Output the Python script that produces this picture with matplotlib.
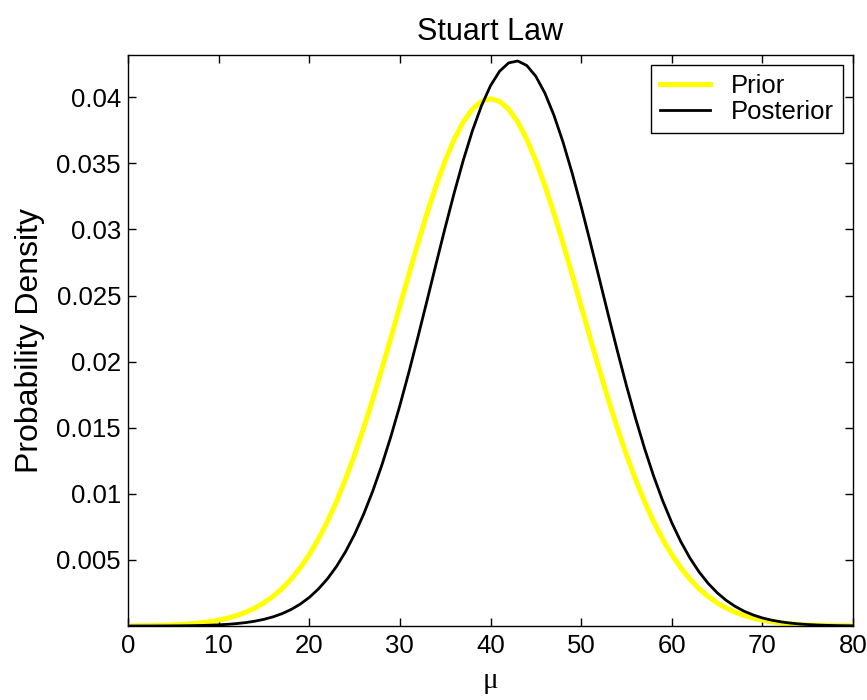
import numpy as np
import matplotlib
matplotlib.use("Agg")
import matplotlib.pyplot as plt

plt.rcParams['font.family'] = ['Liberation Sans', 'DejaVu Sans']

# valores: densidade em mu = 0, 1, ..., 80
mu = list(range(0, 81))
dens_prior = [0.0000134, 0.0000199, 0.0000292, 0.0000425, 0.0000612, 0.0000873, 0.000123,
              0.000172, 0.000238, 0.000327, 0.000443, 0.000595, 0.000792, 0.001042,
              0.001358, 0.001753, 0.002239, 0.002833, 0.003547, 0.004398, 0.005399,
              0.006562, 0.007895, 0.009405, 0.011092, 0.012952, 0.014973, 0.017137,
              0.019419, 0.021785, 0.024197, 0.026608, 0.028969, 0.031225, 0.033322,
              0.035207, 0.036827, 0.038139, 0.039104, 0.039695, 0.039894,
              0.039695, 0.039104, 0.038139, 0.036827, 0.035207, 0.033322, 0.031225,
              0.028969, 0.026608, 0.024197, 0.021785, 0.019419, 0.017137, 0.014973,
              0.012952, 0.011092, 0.009405, 0.007895, 0.006562, 0.005399, 0.004398,
              0.003547, 0.002833, 0.002239, 0.001753, 0.001358, 0.001042, 0.000792,
              0.000595, 0.000443, 0.000327, 0.000238, 0.000172, 0.000123, 0.0000873,
              0.0000612, 0.0000425, 0.0000292, 0.0000199, 0.0000134]
dens_post = [0.0000012, 0.0000019, 0.000003, 0.0000048, 0.0000075, 0.0000117, 0.0000179,
             0.0000272, 0.0000407, 0.0000605, 0.0000886, 0.000128, 0.000184, 0.00026,
             0.000365, 0.000505, 0.000691, 0.000934, 0.001249, 0.001653, 0.002159,
             0.00279, 0.003564, 0.004499, 0.005616, 0.006929, 0.008454, 0.010193,
             0.012153, 0.01432, 0.016686, 0.019218, 0.021885, 0.02463, 0.02741,
             0.030147, 0.032784, 0.035247, 0.037463, 0.039356, 0.040879, 0.041972,
             0.042603, 0.04275, 0.042408, 0.041588, 0.040318, 0.03864, 0.036611,
             0.034288, 0.03175, 0.02906, 0.026297, 0.023524, 0.020803, 0.018186,
             0.015719, 0.013429, 0.01134, 0.009471, 0.007817, 0.00638, 0.005144,
             0.004104, 0.003236, 0.002521, 0.001943, 0.00148, 0.001114, 0.00083,
             0.00061, 0.000444, 0.000319, 0.000227, 0.000159, 0.000111, 0.0000761,
             0.0000517, 0.0000347, 0.000023, 0.0000151]

xticks = [0, 10, 20, 30, 40, 50, 60, 70, 80]
yticks = [0.005, 0.01, 0.015, 0.02, 0.025, 0.03, 0.035, 0.04]
ytick_labels = ['0.005', '0.01', '0.015', '0.02', '0.025', '0.03', '0.035', '0.04']

fig = plt.figure(figsize=(8.67, 7.0), dpi=100)
ax = fig.add_axes([0.1476, 0.1057, 0.8363, 0.8157])

ax.plot(mu, dens_prior, color=(1, 1, 0), lw=3.6, label='Prior')
ax.plot(mu, dens_post, color='black', lw=2.0, label='Posterior')

ax.set_xlim(0, 80)
ax.set_ylim(0, 0.0432)
ax.set_xticks(xticks)
ax.set_xticklabels([str(v) for v in xticks])
ax.set_yticks(yticks)
ax.set_yticklabels(ytick_labels)
ax.tick_params(direction='in', length=6, width=1, top=True, right=True, labelsize=18.5)
ax.tick_params(axis='x', pad=6)
ax.tick_params(axis='y', pad=5)
for s in ax.spines.values():
    s.set_linewidth(1.0)

ax.set_title('Stuart Law', fontsize=22, pad=11)
ax.set_xlabel('μ', fontsize=21, labelpad=7, family=['Liberation Serif', 'DejaVu Serif'])
ax.set_ylabel('Probability Density', fontsize=23, labelpad=8)

leg = ax.legend(loc='upper right', fontsize=18.5, fancybox=False, framealpha=1,
                edgecolor='black', handlelength=1.95, borderaxespad=0.4,
                labelspacing=0.05, handletextpad=0.8, borderpad=0.35)
leg.get_frame().set_linewidth(1.0)

fig.savefig('out.png', dpi=100)
